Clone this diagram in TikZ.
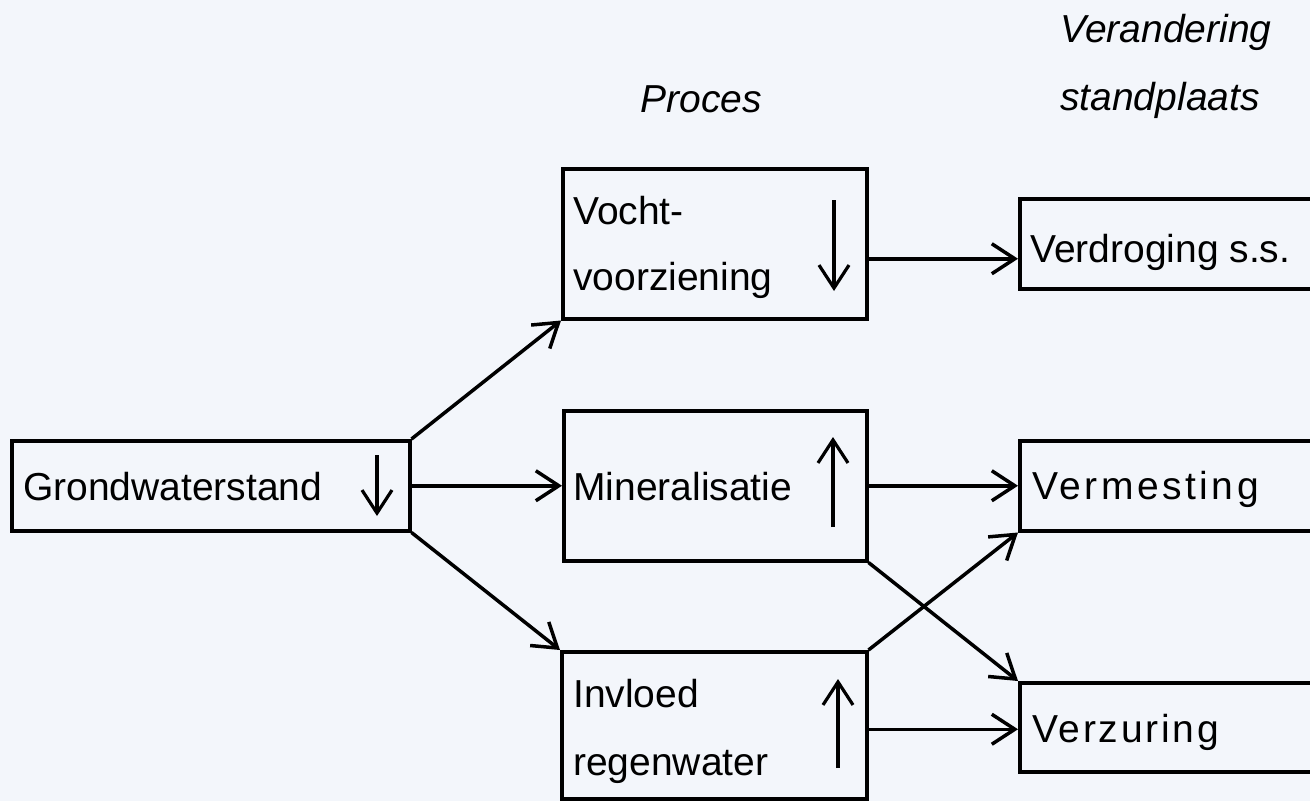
\documentclass[tikz,border=0pt]{standalone}
\usepackage{fontspec}
\setmainfont{Liberation Sans}
\newfontfamily\spacedA[LetterSpace=9]{Liberation Sans}
\newfontfamily\spacedB[LetterSpace=7]{Liberation Sans}
\usetikzlibrary{arrows.meta}
\definecolor{bg}{HTML}{F3F6FB}
\tikzset{
  box/.style={draw=black, line width=3.5pt, anchor=north west, inner sep=0pt},
  lbl/.style={anchor=base west, inner sep=0pt, font=\fontsize{39}{47}\selectfont},
  ttl/.style={anchor=base, inner sep=0pt, font=\fontsize{39}{47}\selectfont\itshape},
  conn/.style={line width=3.5pt, -{Straight Barb[length=23pt,width=30pt,line width=3.5pt]}},
  sym/.style={line width=3.2pt, -{Straight Barb[length=23pt,width=30pt,line width=3.2pt]}}
}
\begin{document}
\begin{tikzpicture}[x=1pt,y=-1pt]
\clip (0,0) rectangle (1310,801);
\fill[bg] (0,0) rectangle (1310,801);
% boxes
\node[box, minimum width=398pt, minimum height=90pt] (g) at (10,439) {};
\node[box, minimum width=304pt, minimum height=150pt] (v) at (561,167) {};
\node[box, minimum width=303pt, minimum height=150pt] (m) at (562,409) {};
\node[box, minimum width=305pt, minimum height=147pt] (i) at (560,650) {};
\node[box, minimum width=320pt, minimum height=90pt] (vd) at (1018,197) {};
\node[box, minimum width=320pt, minimum height=90pt] (vm) at (1018,439) {};
\node[box, minimum width=320pt, minimum height=89pt] (vz) at (1018,681) {};
% texts
\node[lbl] (tg) at (23,500) {Grondwaterstand};
\node[lbl] (tv1) at (573,224) {Vocht-};
\node[lbl] (tv2) at (573,290) {voorziening};
\node[lbl] (tm) at (573,500) {Mineralisatie};
\node[lbl] (ti1) at (573,707) {Invloed};
\node[lbl] (ti2) at (573,775) {regenwater};
\node[lbl] (tvd) at (1030,262) {Verdroging s.s.};
\node[lbl] (tvm) at (1032,499) {\spacedA Vermesting};
\node[lbl] (tvz) at (1032,742) {\spacedB Verzuring};
\node[ttl] (tp) at (701,112) {Proces};
\node[ttl] (tc1) at (1166,42) {Verandering};
\node[ttl] (tc2) at (1160,110) {standplaats};
% symbols inside boxes
\draw[sym] (377,455) -- (377,516);
\draw[sym] (834,200) -- (834,291);
\draw[sym] (833,527) -- (833,437);
\draw[sym] (838,768) -- (838,679);
% connectors
\draw[conn] (g.north east) -- (v.south west);
\draw[conn] (g.east) -- (m.west);
\draw[conn] (g.south east) -- (i.north west);
\draw[conn] ([yshift=-15pt]v.east) -- ([yshift=-15pt]v.east -| vd.west);
\draw[conn] (m.east) -- (vm.west);
\draw[conn] (m.south east) -- (vz.north west);
\draw[conn] (i.north east) -- (vm.south west);
\draw[conn] ([yshift=-4pt]i.east) -- ([yshift=-4pt]i.east -| vz.west);
\end{tikzpicture}
\end{document}
